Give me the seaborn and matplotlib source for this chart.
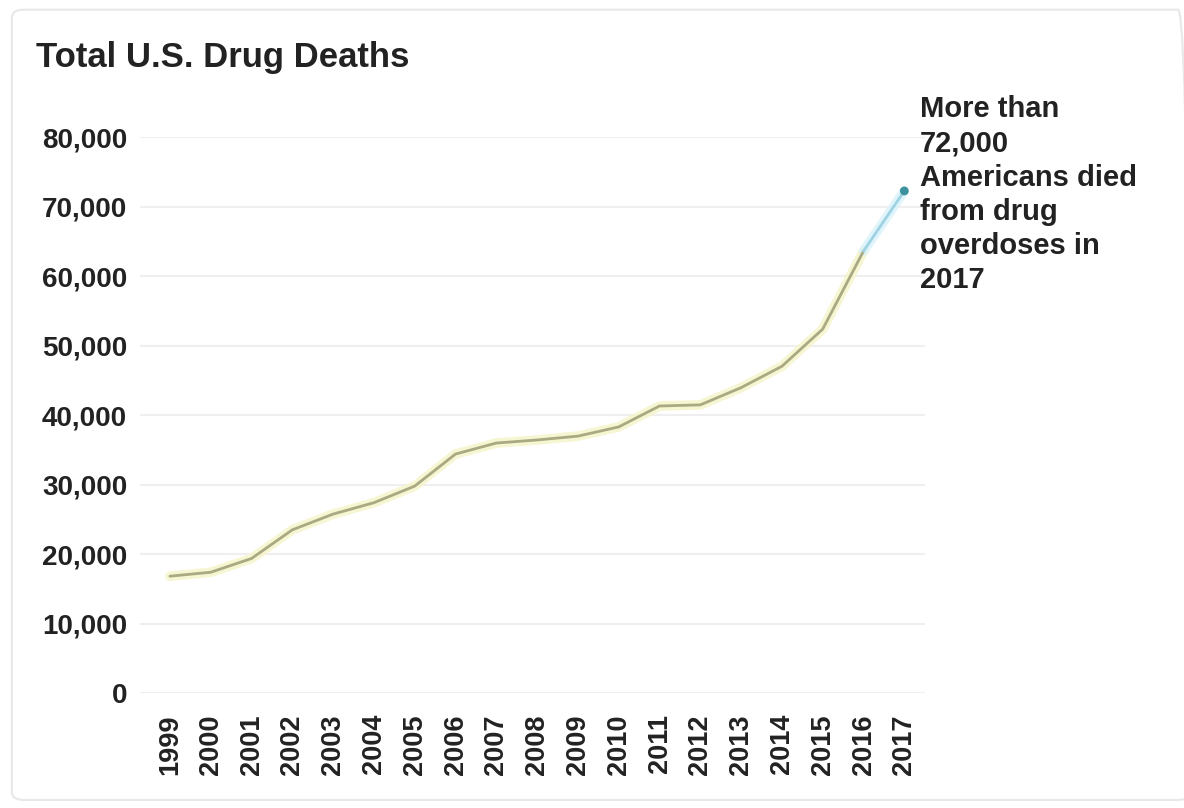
import matplotlib
matplotlib.use("Agg")
import matplotlib.pyplot as plt
from matplotlib.patches import FancyBboxPatch
from matplotlib.ticker import FuncFormatter
import seaborn as sns
import pandas as pd

# Total U.S. drug overdose deaths, 1999-2017
years = [1999, 2000, 2001, 2002, 2003, 2004, 2005, 2006, 2007, 2008,
         2009, 2010, 2011, 2012, 2013, 2014, 2015, 2016, 2017]
deaths = [16849, 17415, 19394, 23518, 25785, 27424, 29813, 34425, 36010, 36450,
          37004, 38329, 41340, 41502, 43982, 47055, 52404, 63632, 72287]
y_ticks = [0, 10000, 20000, 30000, 40000, 50000, 60000, 70000, 80000]
title = "Total U.S. Drug Deaths"
note = "More than\n72,000\nAmericans died\nfrom drug\noverdoses in\n2017"

df = pd.DataFrame({"year": years, "deaths": deaths})
known = df[df["year"] <= 2016]
latest = df[df["year"] >= 2016]
last = df[df["year"] == 2017]

sns.set_style("white")
plt.rcParams["font.family"] = ["Liberation Sans", "DejaVu Sans"]

fig = plt.figure(figsize=(11.84, 8.08), dpi=100)
ax = fig.add_axes([0.118, 0.142, 0.663, 0.688])

# soft glow under the lines
sns.lineplot(data=known, x="year", y="deaths", ax=ax, color="#f6f4c8", linewidth=7, alpha=0.8)
sns.lineplot(data=latest, x="year", y="deaths", ax=ax, color="#d8f3fa", linewidth=7, alpha=0.8)
sns.lineplot(data=known, x="year", y="deaths", ax=ax, color="#a9a982", linewidth=2.0)
sns.lineplot(data=latest, x="year", y="deaths", ax=ax, color="#9fd2e2", linewidth=2.0)
sns.scatterplot(data=last, x="year", y="deaths", ax=ax, color="#3d929e", s=40, edgecolor="none", zorder=5)

ax.set_xlim(1998.26, 2017.5)
ax.set_ylim(0, 80000)
ax.set_yticks(y_ticks)
ax.yaxis.set_major_formatter(FuncFormatter(lambda v, p: f"{int(v):,}"))
ax.set_xticks(years)
ax.set_xticklabels([str(y) for y in years], rotation=90)
ax.grid(axis="y", color="#efefef", linewidth=1.5)
ax.grid(axis="x", visible=False)
for s in ax.spines.values():
    s.set_visible(False)
ax.tick_params(axis="y", length=0, pad=9, labelsize=20)
ax.tick_params(axis="x", length=0, pad=15, labelsize=19.5)
for lab in ax.get_xticklabels() + ax.get_yticklabels():
    lab.set_fontweight("bold")
    lab.set_color("#222222")
ax.set_xlabel("")
ax.set_ylabel("")

fig.text(0.030, 0.929, title, fontsize=25, fontweight="bold", color="#222222", va="center", ha="left")
fig.text(0.777, 0.882, note, fontsize=21, fontweight="bold", color="#222222",
         va="top", ha="left", linespacing=1.28)

frame = FancyBboxPatch((0.010, 0.010), 0.995, 0.978, boxstyle="round,pad=0,rounding_size=0.01",
                       transform=fig.transFigure, facecolor="none", edgecolor="#e8e8e8", linewidth=1.5)
fig.patches.append(frame)

fig.savefig("out.png", dpi=100)
